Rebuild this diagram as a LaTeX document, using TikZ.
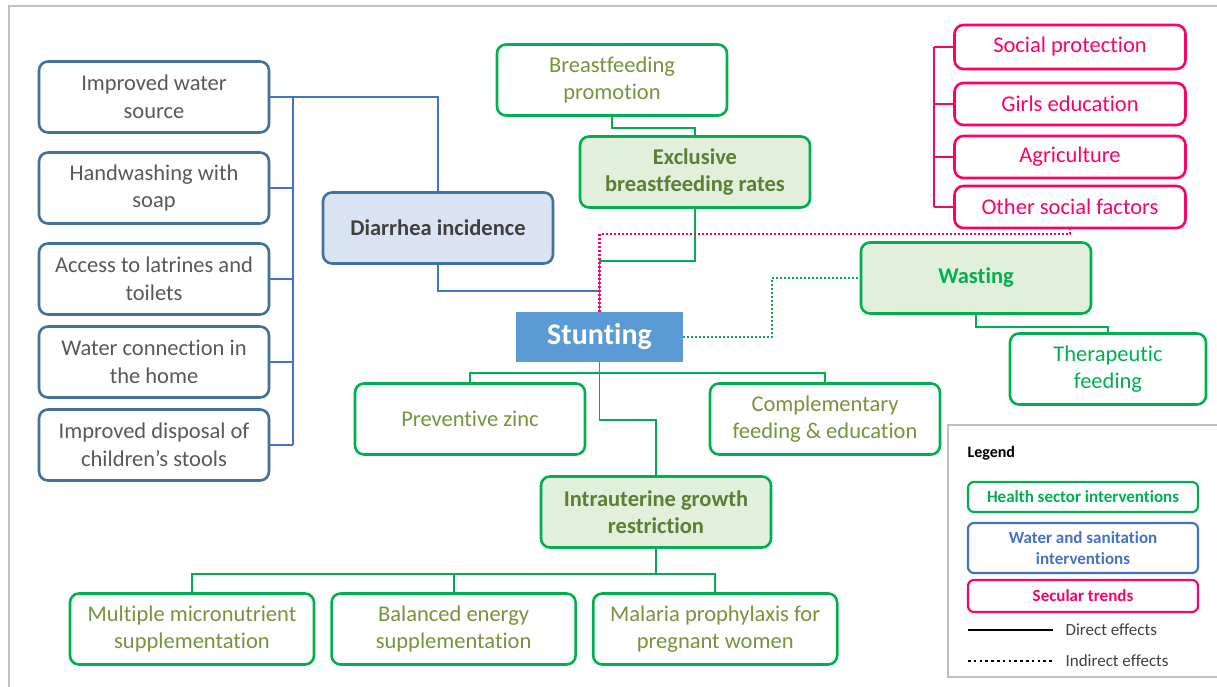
\documentclass[tikz,border=0pt]{standalone}
\usepackage{fontspec}
\setmainfont{Carlito}[Ligatures=NoCommon]
\usetikzlibrary{positioning}
\definecolor{hgreen}{HTML}{00B050}
\definecolor{hfill}{HTML}{E2EFDA}
\definecolor{holive}{HTML}{77933C}
\definecolor{hdark}{HTML}{5A7F35}
\definecolor{washedge}{HTML}{41719C}
\definecolor{washline}{HTML}{4472C4}
\definecolor{washfill}{HTML}{DAE3F3}
\definecolor{stuntblue}{HTML}{5B9BD5}
\definecolor{secpink}{HTML}{FF0066}
\definecolor{framegray}{HTML}{BFBFBF}

\begin{document}
\begin{tikzpicture}[
  x=1pt, y=-1pt,
  node distance=15pt,
  box/.style={rectangle, rounded corners=9pt, line width=2.6pt, fill=white,
    minimum width=230pt, minimum height=71pt, align=center,
    font=\fontsize{22.5}{27.5}\selectfont},
  health/.style={box, draw=hgreen, text=holive},
  healthkey/.style={health, fill=hfill, text=hdark, font=\fontsize{22.5}{27.5}\selectfont\bfseries},
  wash/.style={box, draw=washedge, text=black!65},
  washkey/.style={wash, fill=washfill, text=black!75, font=\fontsize{22.5}{27.5}\selectfont\bfseries},
  secular/.style={box, draw=secpink, text=secpink, minimum width=231pt, minimum height=44pt},
  legkey/.style={rectangle, rounded corners=6pt, line width=2.2pt, minimum width=230pt,
    align=center, font=\fontsize{17}{20.5}\selectfont\bfseries},
  legtext/.style={anchor=west, text=black!75, font=\fontsize{17}{20}\selectfont},
  relation/.style={line width=1.8pt},
  indirect/.style={line width=2.4pt, dash pattern=on 2pt off 2pt}
]
  \useasboundingbox (0,0) rectangle (1217,687);
  \draw[framegray, line width=1.6pt] (9,690) -- (9,6) -- (1220,6);

  \node[wash] (water) at (154,97) {Improved water\\source};
  \node[wash] (handwash) at (154,188) {Handwashing with\\soap};
  \node[wash] (latrines) at (154,279) {Access to latrines and\\toilets};
  \node[wash] (pipedwater) at (154,362) {Water connection in\\the home};
  \node[wash] (stools) at (154,445) {Improved disposal of\\children’s stools};
  \node[washkey] (diarrhea) at (438,228) {Diarrhea incidence};

  \node[rectangle, fill=stuntblue, text=white, minimum width=167pt, minimum height=50pt,
    font=\fontsize{30}{34}\selectfont\bfseries] (stunting) at (599.5,337) {Stunting};

  \node[health] (promotion) at (612,80) {Breastfeeding\\promotion};
  \node[healthkey] (exclusive) at (695,172) {Exclusive\\breastfeeding rates};
  \node[healthkey, text=hgreen] (wasting) at (976,278) {Wasting};
  \node[health, text=hgreen, minimum width=196pt] (therapeutic) at (1108,369) {Therapeutic\\feeding};
  \node[health] (zinc) at (470,419) {Preventive zinc};
  \node[health] (complementary) at (825,419) {Complementary\\feeding \& education};
  \node[healthkey] (iugr) at (656,512) {Intrauterine growth\\restriction};
  \node[health, minimum width=244pt] (micronut) at (192,629) {Multiple micronutrient\\supplementation};
  \node[health, minimum width=244pt, right=of micronut] (energy) {Balanced energy\\supplementation};
  \node[health, minimum width=244pt, right=of energy] (malaria) {Malaria prophylaxis for\\pregnant women};

  \node[secular] (socprot) at (1070,47) {Social protection};
  \node[secular, minimum height=42pt] (girlsedu) at (1070,104) {Girls education};
  \node[secular, minimum height=42pt] (agric) at (1070,157) {Agriculture};
  \node[secular, minimum height=42pt] (othersoc) at (1070,207) {Other social factors};

  \coordinate (washtop) at (293,97);
  \coordinate (washbot) at (293,445);
  \coordinate (sectop) at (934,47);
  \coordinate (secbot) at (934,207);
  \coordinate (wastebend) at (772,337);

  \draw[relation, washline] (washtop) -- (washbot);
  \draw[relation, washline] (water.east) -| (diarrhea.north);
  \draw[relation, washline] (handwash.east) -- (handwash.east -| washtop);
  \draw[relation, washline] (latrines.east) -- (latrines.east -| washtop);
  \draw[relation, washline] (pipedwater.east) -- (pipedwater.east -| washtop);
  \draw[relation, washline] (stools.east) -- (stools.east -| washtop);
  \draw[relation, washline] (diarrhea.south) -- ++(0,26) -| (stunting.north);

  \draw[relation, secpink] (sectop) -- (secbot);
  \draw[relation, secpink] (socprot.west) -- (socprot.west -| sectop);
  \draw[relation, secpink] (girlsedu.west) -- (girlsedu.west -| sectop);
  \draw[relation, secpink] (agric.west) -- (agric.west -| sectop);
  \draw[relation, secpink] (othersoc.west) -- (othersoc.west -| sectop);

  \draw[relation, hgreen] (promotion.south) -- ++(0,11) -| (exclusive.north);
  \draw[relation, hgreen] (exclusive.south) -- ++(0,52) -| (stunting.north);
  \draw[relation, hgreen] (wasting.south) -- ++(0,12) -| (therapeutic.north);
  \draw[relation, hgreen] (stunting.south) -- ++(0,11) -| (zinc.north);
  \draw[relation, hgreen] (stunting.south) -- ++(0,11) -| (complementary.north);
  \draw[relation, hgreen] (stunting.south) -- ++(0,58) -| (iugr.north);
  \draw[relation, hgreen] (iugr.south) -- ++(0,25) -| (micronut.north);
  \draw[relation, hgreen] (iugr.south) -- ++(0,25) -| (energy.north);
  \draw[relation, hgreen] (iugr.south) -- ++(0,25) -| (malaria.north);

  \draw[indirect, hgreen] (stunting.east) -- (wastebend) |- (wasting.west);
  \draw[indirect, secpink] (stunting.north) -- ++(0,-78) -| (othersoc.south);

  \draw[framegray, line width=1.8pt, fill=white] (948,425) rectangle (1225,677);
  \node[anchor=west, font=\fontsize{16}{19}\selectfont\bfseries] (legend) at (964,453) {Legend};
  \node[legkey, draw=hgreen, text=hgreen, minimum height=30pt] (lhealth) at (1083,497) {Health sector interventions};
  \node[legkey, draw=washline, text=washline, minimum height=50pt] (lwash) at (1083,548) {Water and sanitation\\interventions};
  \node[legkey, draw=secpink, text=secpink, minimum height=32pt] (lsecular) at (1083,596) {Secular trends};
  \coordinate (directa) at (968,630);
  \coordinate (directb) at (1053,630);
  \coordinate (indirecta) at (968,661);
  \coordinate (indirectb) at (1053,661);
  \draw[line width=2.4pt] (directa) -- (directb);
  \draw[line width=2.6pt, dash pattern=on 2.6pt off 3.2pt] (indirecta) -- (indirectb);
  \node[legtext] (ldirect) at (1062,630) {Direct effects};
  \node[legtext] (lindirect) at (1062,661) {Indirect effects};
\end{tikzpicture}
\end{document}
